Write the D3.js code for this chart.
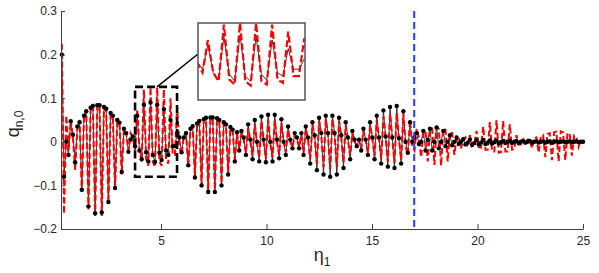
<!DOCTYPE html>
<meta charset="utf-8">
<style>
  body { margin: 0; background: #fff; }
  text { font-family: "Liberation Sans", Arial, sans-serif; fill: #262626; }
</style>
<svg id="chart" width="599" height="273"></svg>

<script src="https://cdn.jsdelivr.net/npm/d3@7"></script>
<script>

// sample grid in eta_1 (evenly spaced)
const etaStart = 0.3;
const etaEnd = 25;

// black series (dots + thin line), one value per sample
const blackVals = [
  0.20, -0.08, 0.00, -0.03, 0.047, 0.016, -0.047, 0.035, 0.045, -0.11,
  0.06, 0.07, -0.148, 0.078, 0.082, -0.164, 0.084, 0.084, -0.162, 0.080,
  0.076, -0.138, 0.066, 0.060, -0.106, 0.050, 0.044, -0.069, 0.030, 0.020,
  -0.023, 0.005, 0.012, -0.01, 0.06, -0.02, -0.04, 0.085, -0.024, -0.045,
  0.09, -0.03, -0.046, 0.085, -0.025, -0.042, 0.075, -0.02, -0.03, 0.05,
  -0.01, -0.01, 0.02, 0.01, -0.024, 0.01, 0.02, -0.054, 0.03, 0.036,
  -0.082, 0.042, 0.048, -0.10, 0.052, 0.055, -0.115, 0.056, 0.056, -0.115,
  0.054, 0.05, -0.10, 0.045, 0.04, -0.075, 0.034, 0.028, -0.045, 0.022,
  -0.02, 0.025, 0.01, -0.03, 0.04, 0.005, -0.04, 0.05, 0.0, -0.045,
  0.058, 0.005, -0.047, 0.062, 0.0, -0.045, 0.062, 0.005, -0.038, 0.052,
  0.0, -0.03, 0.035, 0.005, -0.015, 0.02, 0.01, -0.015, 0.02, -0.03,
  0.035, 0.01, -0.05, 0.045, 0.015, -0.065, 0.055, 0.02, -0.075, 0.06,
  0.02, -0.08, 0.06, 0.02, -0.075, 0.055, 0.015, -0.06, 0.045, 0.01,
  -0.04, 0.025, 0.005, -0.01, 0.005, -0.02, 0.03, 0.005, -0.03, 0.045,
  0.01, -0.04, 0.06, 0.01, -0.05, 0.072, 0.012, -0.057, 0.08, 0.01,
  -0.06, 0.082, 0.008, -0.05, 0.07, 0.0, -0.025, 0.045, 0.0, 0.01,
  0.02, -0.005, 0.0, 0.025, -0.02, 0.005, 0.03, -0.02, 0.0, 0.033,
  -0.015, 0.0, 0.025, -0.01, 0.0, 0.015, -0.008, 0.0, 0.01, -0.005,
  0.0, 0.006, -0.006, -0.002, 0.005, -0.007, -0.003, 0.004, -0.006, -0.002,
  0.004, -0.005, -0.002, 0.003, -0.004, -0.001, 0.003, -0.004, -0.001, 0.002,
  -0.003, 0.0, 0.002, -0.003, 0.0, 0.002, -0.003, 0.0, 0.002, -0.002,
  0.0, 0.002, -0.002, 0.0, 0.001, -0.002, 0.0, 0.001, -0.002, 0.0,
  0.001, -0.002, 0.0, 0.001, -0.001, 0.0, 0.001, -0.001, 0.0, 0.001,
  -0.001, 0.0, 0.001, -0.001, 0.0, 0.0
];

// red dashed series
const redVals = [
  0.225, -0.165, 0.06, -0.02, 0.05, 0.01, -0.065, 0.03, 0.05, -0.115,
  0.06, 0.072, -0.155, 0.078, 0.083, -0.17, 0.084, 0.082, -0.17, 0.078,
  0.072, -0.14, 0.063, 0.055, -0.11, 0.047, 0.04, -0.075, 0.03, 0.02,
  -0.02, 0.02, 0.01, -0.02, 0.075, -0.02, -0.045, 0.12, -0.04, -0.055,
  0.125, -0.045, -0.058, 0.125, -0.045, -0.055, 0.12, -0.04, -0.05, 0.10,
  -0.03, -0.03, 0.08, -0.01, -0.03, 0.015, 0.02, -0.055, 0.03, 0.035,
  -0.08, 0.04, 0.045, -0.10, 0.05, 0.052, -0.112, 0.054, 0.053, -0.11,
  0.05, 0.047, -0.095, 0.042, 0.037, -0.07, 0.03, 0.025, -0.04, 0.018,
  -0.015, 0.02, 0.005, -0.025, 0.032, 0.0, -0.032, 0.04, -0.005, -0.036,
  0.047, 0.0, -0.038, 0.05, -0.005, -0.036, 0.05, 0.0, -0.03, 0.042,
  0.0, -0.024, 0.028, 0.0, -0.012, 0.016, 0.005, -0.012, 0.016, -0.025,
  0.03, 0.005, -0.04, 0.04, 0.01, -0.05, 0.048, 0.015, -0.058, 0.052,
  0.015, -0.062, 0.052, 0.015, -0.058, 0.048, 0.01, -0.048, 0.038, 0.005,
  -0.032, 0.02, 0.0, -0.008, 0.004, -0.016, 0.025, 0.004, -0.025, 0.038,
  0.008, -0.033, 0.05, 0.008, -0.04, 0.058, 0.01, -0.046, 0.064, 0.008,
  -0.048, 0.066, 0.006, -0.042, 0.066, -0.01, -0.03, 0.05, -0.01, -0.02,
  0.03, 0.01, -0.035, 0.02, 0.025, -0.045, 0.028, 0.03, -0.053, 0.033,
  0.03, -0.055, 0.03, 0.028, -0.045, 0.022, 0.02, -0.03, 0.012, 0.01,
  -0.015, 0.005, 0.01, -0.005, 0.015, -0.01, -0.005, 0.025, -0.012, -0.013,
  0.035, -0.018, -0.018, 0.045, -0.022, -0.022, 0.05, -0.025, -0.024, 0.048,
  -0.022, -0.022, 0.04, -0.018, -0.017, 0.015, -0.006, -0.006, 0.005, -0.008,
  0.005, 0.005, -0.015, 0.008, 0.01, -0.025, 0.013, 0.015, -0.035, 0.018,
  0.02, -0.042, 0.022, 0.023, -0.045, 0.024, 0.022, -0.042, 0.02, 0.018,
  -0.032, 0.014, 0.01, -0.012, 0.004, 0.0
];

const xTicks = [5, 10, 15, 20, 25];
const yTicks = [-0.2, -0.1, 0, 0.1, 0.2, 0.3];
const vLineEta = 17;
// zoomed window (data coords) and inset view
const boxEta = [3.77, 5.76], boxQ = [-0.08, 0.126];
const insetEta = [3.68, 5.78], insetQ = [-0.1, 0.125];

const n = blackVals.length;
const eta = d3.range(n).map(i => etaStart + i * (etaEnd - etaStart) / (n - 1));
const black = eta.map((e, i) => ({ x: e, y: blackVals[i] }));
const red = eta.map((e, i) => ({ x: e, y: redVals[i] }));

const svg = d3.select("#chart");

const x = d3.scaleLinear().domain([0.26, 25]).range([61, 583]);
const y = d3.scaleLinear().domain([-0.2, 0.3]).range([229, 11]);

const line = d3.line().x(d => x(d.x)).y(d => y(d.y));

// data
svg.append("path")
   .datum(black)
   .attr("fill", "none")
   .attr("stroke", "#222")
   .attr("stroke-width", 0.9)
   .attr("d", line);

svg.append("path")
   .datum(red)
   .attr("fill", "none")
   .attr("stroke", "#ff0000")
   .attr("stroke-width", 2)
   .attr("stroke-dasharray", "6 3")
   .attr("d", line);

svg.append("g")
   .selectAll("circle")
   .data(black)
   .join("circle")
   .attr("cx", d => x(d.x))
   .attr("cy", d => y(d.y))
   .attr("r", 2.2)
   .attr("fill", "#000");

// blue marker line
svg.append("line")
   .attr("x1", x(vLineEta)).attr("x2", x(vLineEta))
   .attr("y1", y(0.3)).attr("y2", y(-0.2))
   .attr("stroke", "#1f3cff")
   .attr("stroke-width", 2)
   .attr("stroke-dasharray", "7 4");

// axes (ticks pointing inward, no box)
const fmt = d => d === 0 ? "0" : d3.format(".1f")(d);

const xAxis = svg.append("g")
   .attr("transform", `translate(0,${y(-0.2)})`)
   .call(d3.axisBottom(x).tickValues(xTicks).tickSizeInner(-5).tickSizeOuter(0).tickPadding(7));

const yAxis = svg.append("g")
   .attr("transform", `translate(${x(0.26)},0)`)
   .call(d3.axisLeft(y).tickValues(yTicks).tickFormat(fmt).tickSizeInner(-4).tickSizeOuter(0).tickPadding(4));

[xAxis, yAxis].forEach(g => {
    g.select(".domain").attr("stroke", "#404040");
    g.selectAll(".tick line").attr("stroke", "#404040");
    g.selectAll(".tick text")
     .attr("font-size", 12)
     .attr("font-family", "Liberation Sans, Arial, sans-serif")
     .attr("fill", "#262626");
});

// axis labels
const xl = svg.append("text")
   .attr("x", 322).attr("y", 261)
   .attr("text-anchor", "middle")
   .attr("font-size", 18);
xl.append("tspan").text("η");
xl.append("tspan").attr("font-size", 12).attr("dy", 5).text("1");

const yl = svg.append("text")
   .attr("transform", "translate(19,124) rotate(-90)")
   .attr("text-anchor", "middle")
   .attr("font-size", 18);
yl.append("tspan").text("q");
yl.append("tspan").attr("font-size", 12).attr("dy", 4).text("n,0");

// dashed zoom box + connector
svg.append("rect")
   .attr("x", x(boxEta[0])).attr("y", y(boxQ[1]))
   .attr("width", x(boxEta[1]) - x(boxEta[0]))
   .attr("height", y(boxQ[0]) - y(boxQ[1]))
   .attr("fill", "none")
   .attr("stroke", "#000")
   .attr("stroke-width", 2.6)
   .attr("stroke-dasharray", "8 4");

const inset = { x: 198, y: 23, w: 107, h: 77 };

svg.append("line")
   .attr("x1", 157).attr("y1", y(boxQ[1]))
   .attr("x2", inset.x).attr("y2", 54)
   .attr("stroke", "#000")
   .attr("stroke-width", 1.5);

// inset
const xi = d3.scaleLinear().domain(insetEta).range([inset.x, inset.x + inset.w]);
const yi = d3.scaleLinear().domain(insetQ).range([inset.y + inset.h, inset.y]);
const lineI = d3.line().x(d => xi(d.x)).y(d => yi(d.y));

svg.append("clipPath").attr("id", "insetClip")
   .append("rect")
   .attr("x", inset.x).attr("y", inset.y)
   .attr("width", inset.w).attr("height", inset.h);

svg.append("rect")
   .attr("x", inset.x).attr("y", inset.y)
   .attr("width", inset.w).attr("height", inset.h)
   .attr("fill", "#fff");

const ig = svg.append("g").attr("clip-path", "url(#insetClip)");
const inRange = d => d.x >= insetEta[0] - 0.3 && d.x <= insetEta[1] + 0.3;

ig.append("path")
  .datum(black.filter(inRange))
  .attr("fill", "none")
  .attr("stroke", "#222")
  .attr("stroke-width", 0.9)
  .attr("d", lineI);

ig.append("path")
  .datum(red.filter(inRange))
  .attr("fill", "none")
  .attr("stroke", "#ff0000")
  .attr("stroke-width", 2.2)
  .attr("stroke-dasharray", "7 3")
  .attr("d", lineI);

svg.append("rect")
   .attr("x", inset.x).attr("y", inset.y)
   .attr("width", inset.w).attr("height", inset.h)
   .attr("fill", "none")
   .attr("stroke", "#555")
   .attr("stroke-width", 1.5);

</script>
